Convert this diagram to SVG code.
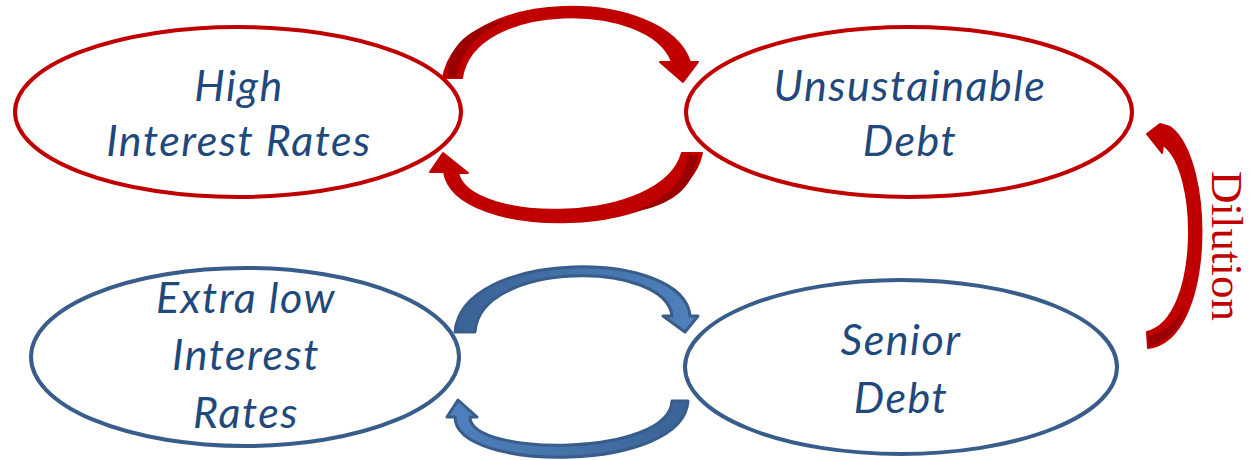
<svg xmlns="http://www.w3.org/2000/svg" width="1252" height="460" viewBox="0 0 1252 460">
<defs>
<style>
.red{fill:none;stroke:#C00000;stroke-width:4}
.blue{fill:none;stroke:#385D8A;stroke-width:4}
.lbl{font-family:Lato,"Liberation Sans",sans-serif;font-style:italic;font-size:43px;letter-spacing:1.5px;fill:#1F497D;text-anchor:middle}
.ra{fill:#C00000;stroke:#C00000;stroke-width:2;stroke-linejoin:round}
.rd{fill:#9A0000}
.ba{fill:url(#bg);stroke:#385D8A;stroke-width:3;stroke-linejoin:round}
</style>
<linearGradient id="bg" x1="0" y1="0" x2="1" y2="0">
<stop offset="0" stop-color="#3A6396"/>
<stop offset="1" stop-color="#4F81BD"/>
</linearGradient>
<linearGradient id="bg2" x1="1" y1="0" x2="0" y2="0">
<stop offset="0" stop-color="#3A6396"/>
<stop offset="1" stop-color="#4F81BD"/>
</linearGradient>
</defs>
<g id="connectors">
<path class="ra" d="M443 78 C460 -14 664 -14 690 62 L698 62 L683 82 L660 62 L672 62 C650 0 473 0 462 78 Z"/>
<path class="rd" d="M447 77 C447 45 470 26 512 18 C480 30 462 48 457 77 Z"/>
<path class="ra" d="M702 153 C684 242 455 242 444 172 L430 172 L443 153 L468 173 L458 173 C470 225 662 225 682 153 Z"/>
<path class="rd" d="M688 155 L698 155 C694 190 670 205 634 212 C665 198 684 185 688 155 Z"/>
<path class="ba" d="M455 332 C462 248 684 248 690 316 L698 316 L685 332 L663 316 L672 316 C666 260 480 260 475 332 Z"/>
<path class="ba" style="fill:url(#bg2)" d="M688 401 C684 473 455 473 455 417 L447 417 L458 400 L477 417 L470 417 C470 457 669 457 672 401 Z"/>
<path class="ra" d="M1148 348 C1215 340 1215 160 1170 127 L1160 124 L1147 134 L1162 153 L1163 145 C1200 170 1200 320 1147 332 Z"/>
<path class="rd" d="M1149 346 L1148 336 C1165 332 1178 322 1185 305 C1180 330 1168 342 1149 346 Z"/>
</g>
<g id="node-high">
<ellipse class="red" cx="238" cy="112" rx="223" ry="85"/>
<text class="lbl" x="239" y="101">High</text>
<text class="lbl" x="239" y="156">Interest Rates</text>
</g>
<g id="node-unsustainable">
<ellipse class="red" cx="909" cy="112" rx="223" ry="85"/>
<text class="lbl" x="910" y="101">Unsustainable</text>
<text class="lbl" x="910" y="156">Debt</text>
</g>
<g id="node-extralow">
<ellipse class="blue" cx="245" cy="357" rx="214" ry="89"/>
<text class="lbl" x="246" y="313">Extra low</text>
<text class="lbl" x="246" y="370">Interest</text>
<text class="lbl" x="246" y="428">Rates</text>
</g>
<g id="node-senior">
<ellipse class="blue" cx="901" cy="367" rx="216" ry="87"/>
<text class="lbl" x="901" y="355">Senior</text>
<text class="lbl" x="901" y="413">Debt</text>
</g>
<text transform="translate(1212,246) rotate(90)" text-anchor="middle" font-family="'Liberation Serif',serif" font-size="45" fill="#C00000">Dilution</text>
</svg>
